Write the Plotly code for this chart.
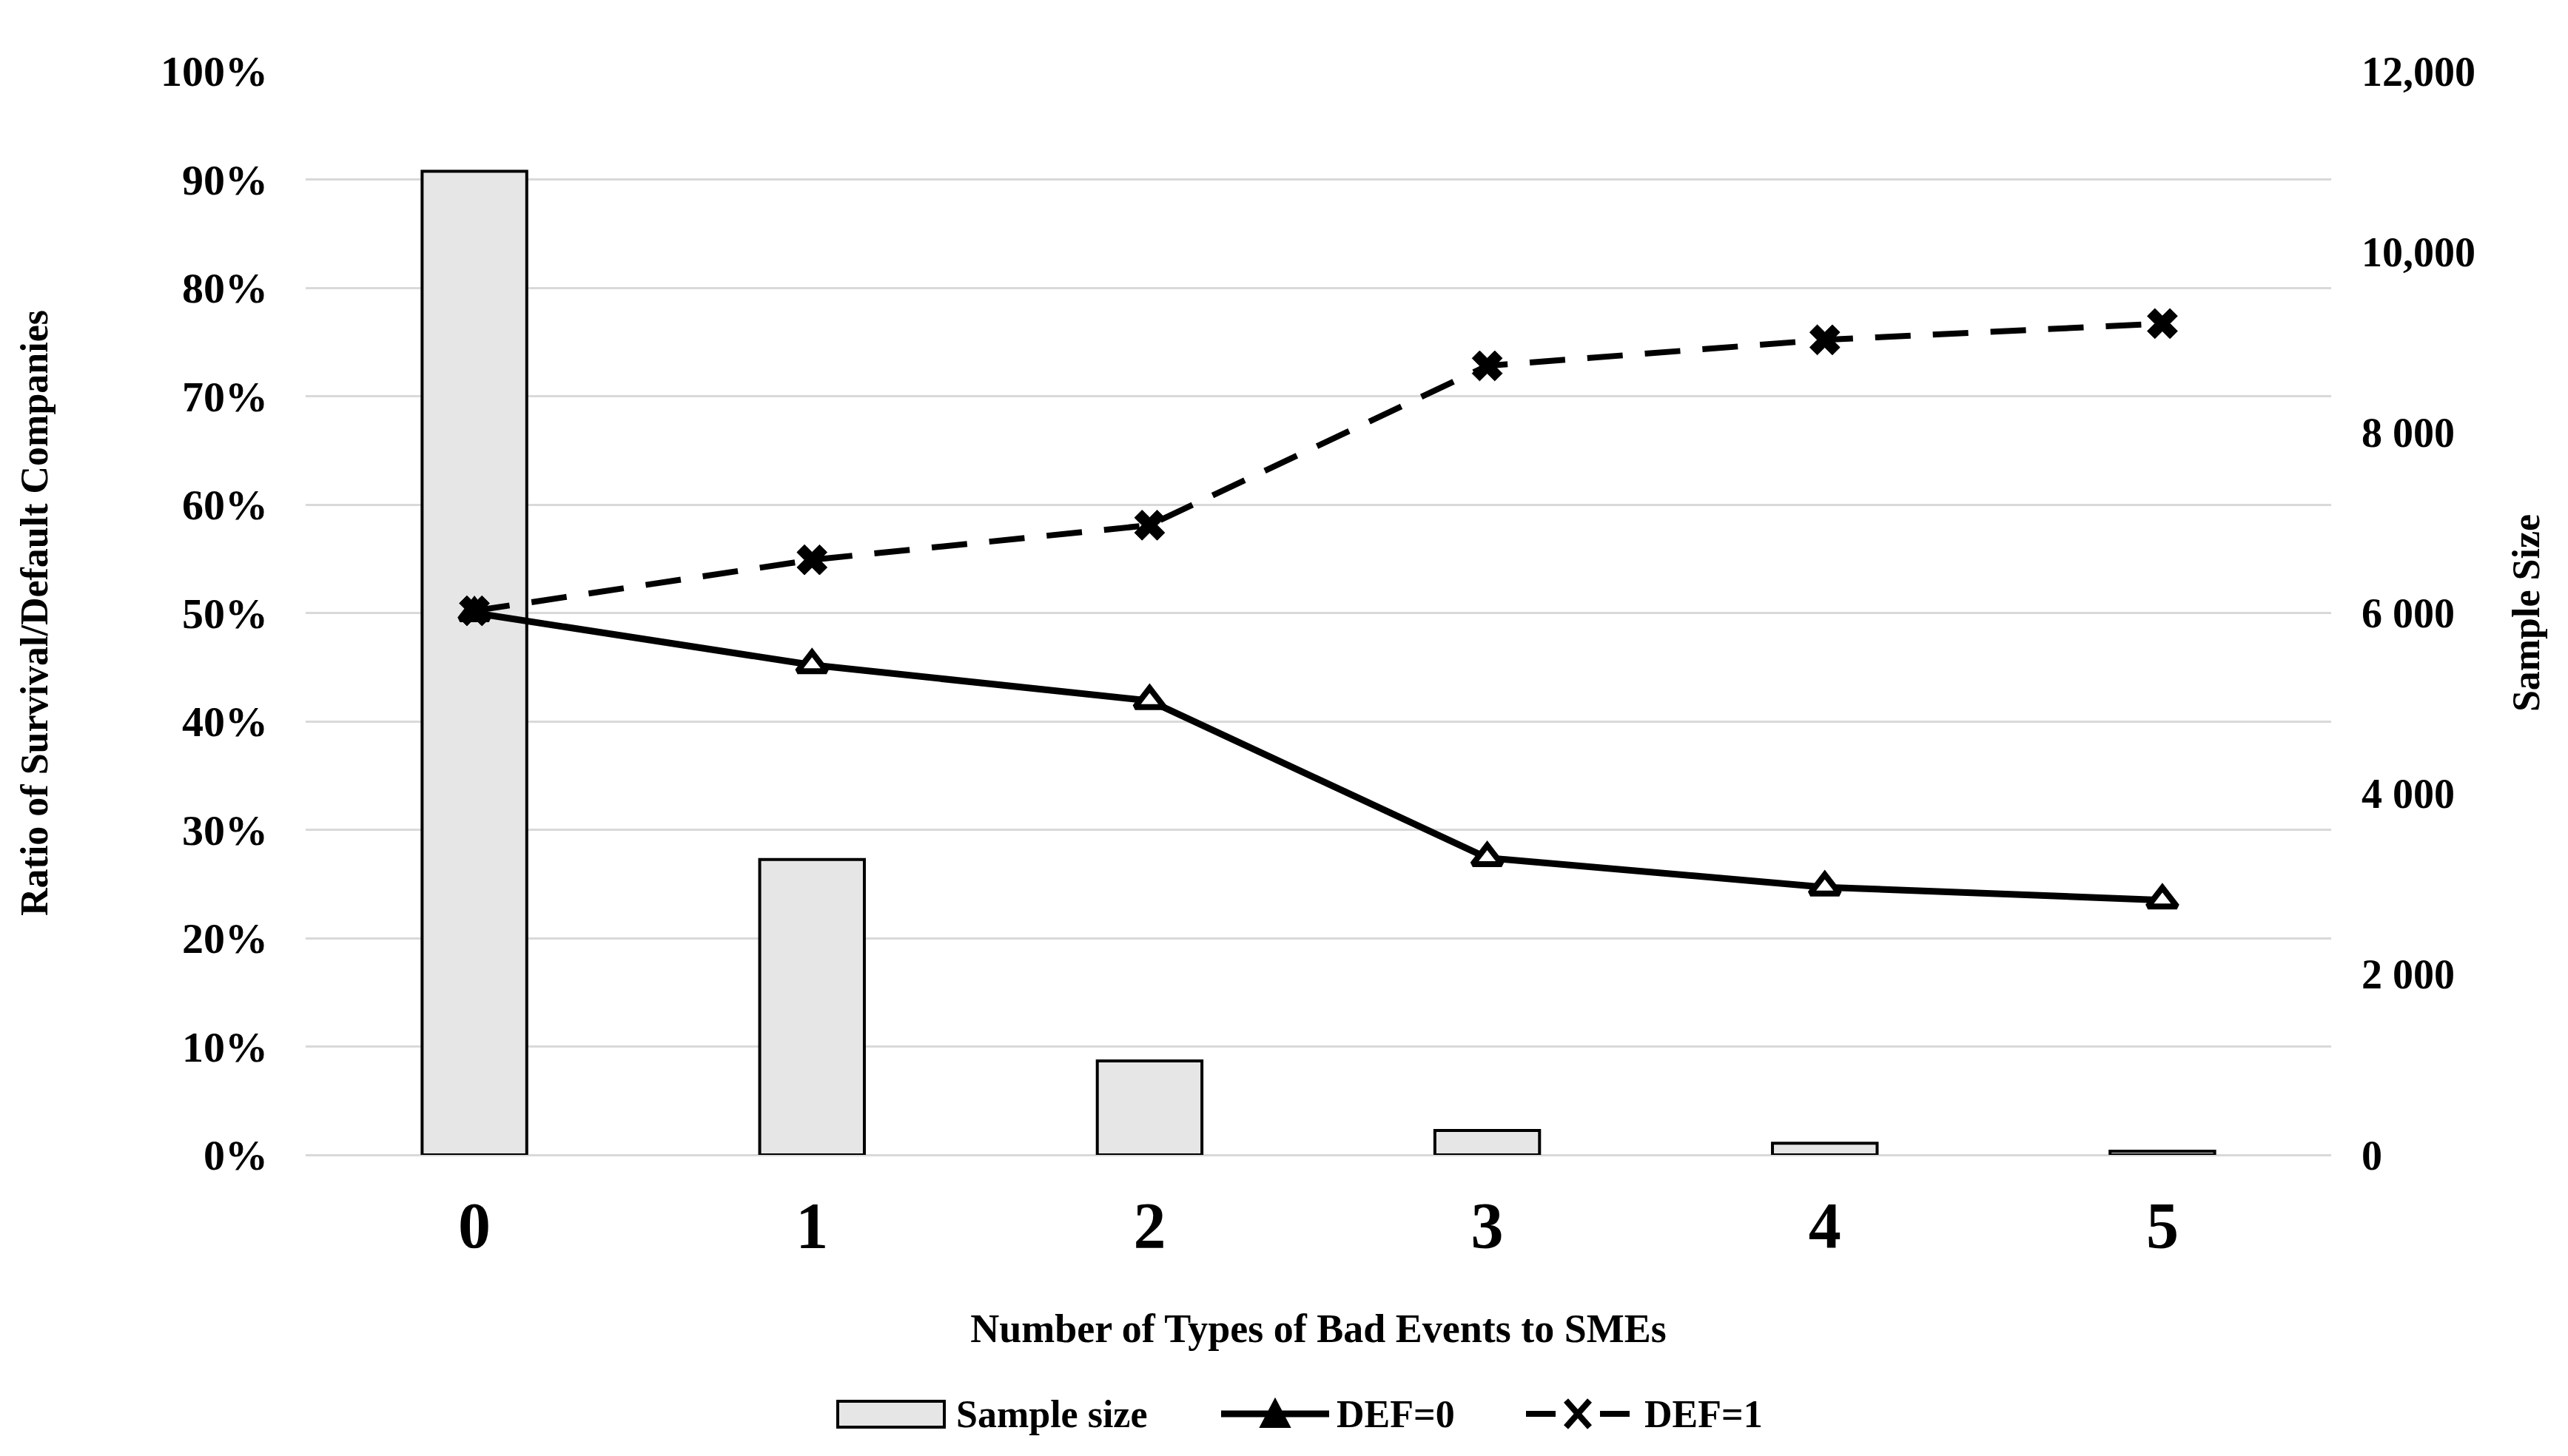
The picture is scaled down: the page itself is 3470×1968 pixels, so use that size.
import plotly.graph_objects as go

categories = ["0", "1", "2", "3", "4", "5"]
sample_size = [10890, 3270, 1040, 270, 130, 40]
def0 = [0.500, 0.452, 0.419, 0.274, 0.247, 0.235]
def1 = [0.502, 0.549, 0.581, 0.728, 0.752, 0.767]

y2_tickvals = [0, 2000, 4000, 6000, 8000, 10000, 12000]
y2_ticktext = ["0", "2 000", "4 000", "6 000", "8 000", "10,000", "12,000"]

legend_labels = ["Sample size", "DEF=0", "DEF=1"]

FONT = "Liberation Serif"
W, H = 3470, 1968
ML, MR, MT, MB = 405, 328, 88, 415
PW = W - ML - MR
PH = H - MT - MB


def px(xp):
    return (xp - ML) / PW


def py(yp):
    return (H - MB - yp) / PH


fig = go.Figure()
fig.add_trace(go.Bar(
    x=categories, y=sample_size, name=legend_labels[0], yaxis="y",
    width=0.31, marker=dict(color="#e6e6e6", line=dict(color="black", width=4)),
))
fig.add_trace(go.Scatter(
    x=categories, y=def0, name=legend_labels[1], yaxis="y2", mode="lines+markers",
    line=dict(color="black", width=9),
    marker=dict(symbol="triangle-up", size=34, color="white", line=dict(color="black", width=8)),
))
fig.add_trace(go.Scatter(
    x=categories, y=def1, name=legend_labels[2], yaxis="y2", mode="lines+markers",
    line=dict(color="black", width=8, dash="48px,30px"),
    marker=dict(symbol="x", size=36, color="black", line=dict(color="black", width=1)),
))

# custom legend (decoration in paper coordinates)
LY = 1903
shapes = [
    dict(type="rect", xref="paper", yref="paper",
         x0=px(1124), x1=px(1268), y0=py(1921), y1=py(1886),
         fillcolor="#e6e6e6", line=dict(color="black", width=4)),
    dict(type="line", xref="paper", yref="paper",
         x0=px(1642), x1=px(1788), y0=py(LY), y1=py(LY),
         line=dict(color="black", width=9)),
    dict(type="path", xref="paper", yref="paper",
         path=f"M {px(1695)},{py(LY + 18)} L {px(1735)},{py(LY + 18)} L {px(1715)},{py(LY - 20)} Z",
         fillcolor="black", line=dict(color="black", width=2)),
    dict(type="line", xref="paper", yref="paper",
         x0=px(2054), x1=px(2094), y0=py(LY), y1=py(LY),
         line=dict(color="black", width=8)),
    dict(type="line", xref="paper", yref="paper",
         x0=px(2154), x1=px(2194), y0=py(LY), y1=py(LY),
         line=dict(color="black", width=8)),
    dict(type="line", xref="paper", yref="paper",
         x0=px(2108), x1=px(2140), y0=py(LY - 18), y1=py(LY + 18),
         line=dict(color="black", width=8)),
    dict(type="line", xref="paper", yref="paper",
         x0=px(2108), x1=px(2140), y0=py(LY + 18), y1=py(LY - 18),
         line=dict(color="black", width=8)),
]
annotations = [
    dict(text=f"<b>{lbl}</b>", xref="paper", yref="paper", x=px(xs), y=py(LY),
         xanchor="left", yanchor="middle", showarrow=False,
         font=dict(family=FONT, size=52, color="black"))
    for lbl, xs in zip(legend_labels, [1282, 1796, 2212])
]

fig.update_layout(
    width=W, height=H,
    paper_bgcolor="white", plot_bgcolor="white",
    margin=dict(l=ML, r=MR, t=MT, b=MB),
    font=dict(family=FONT, color="black", size=54),
    showlegend=False,
    shapes=shapes,
    annotations=annotations,
    xaxis=dict(
        type="category", range=[-0.5, 5.5],
        showline=False, showgrid=False, ticks="",
        tickfont=dict(family=FONT, size=88, color="black", weight="bold"),
        ticklabelstandoff=36,
        title=dict(text="<b>Number of Types of Bad Events to SMEs</b>",
                   font=dict(family=FONT, size=54, color="black"), standoff=72),
    ),
    yaxis=dict(
        side="right", range=[0, 12000], tickvals=y2_tickvals, ticktext=y2_ticktext,
        showgrid=False, zeroline=False, showline=False,
        tickfont=dict(family=FONT, size=56, color="black", weight="bold"),
        ticklabelstandoff=40,
        title=dict(text="<b>Sample Size</b>", font=dict(family=FONT, size=52, color="black"), standoff=50),
    ),
    yaxis2=dict(
        side="left", overlaying="y", range=[0, 1.0], dtick=0.1, tickformat=".0%",
        showgrid=True, gridcolor="#d9d9d9", gridwidth=3,
        zeroline=True, zerolinecolor="#d9d9d9", zerolinewidth=3, showline=False,
        tickfont=dict(family=FONT, size=58, color="black", weight="bold"),
        ticklabelstandoff=50,
        title=dict(text="<b>Ratio of Survival/Default Companies</b>",
                   font=dict(family=FONT, size=52, color="black"), standoff=135),
    ),
)

fig.write_html("out.html")
